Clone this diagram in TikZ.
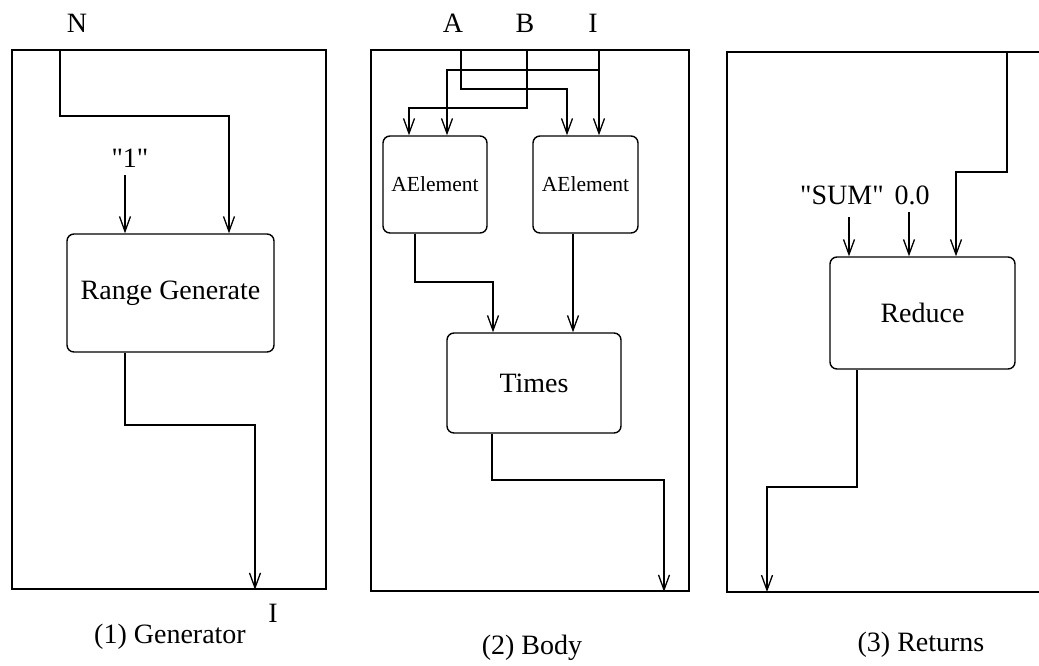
\documentclass[tikz,border=0pt]{standalone}
\usepackage{fontspec}
\setmainfont{Liberation Serif}
% same face without the TeX ligature mapping, so " stays a straight quote
\newfontfamily\qfont{Liberation Serif}
\usetikzlibrary{arrows.meta}
\newcommand{\dq}{{\qfont\symbol{34}}}
\begin{document}
\begin{tikzpicture}[x=1pt,y=-1pt,
  line width=1.3pt,
  arr/.style={-{Straight Barb[length=15pt,width=11pt,line width=1.3pt]}},
  op/.style={draw, rounded corners=7pt, inner sep=0pt, line width=1.4pt,
             font=\fontsize{28}{32}\selectfont},
  small/.style={font=\fontsize{21.5}{26}\selectfont},
  lab/.style={font=\fontsize{28}{32}\selectfont, inner sep=0pt},
  frame/.style={draw, line width=1.5pt, inner sep=0pt}]
\useasboundingbox (0,0) rectangle (1039,665);

% ---------- (1) Generator ----------
\node[frame, minimum width=314pt, minimum height=539pt] (p1) at (169,319.5) {};
\node[op, minimum width=207pt, minimum height=118pt] (rg) at (170.5,293) {Range Generate};
\node[lab] (n) at (77,23) {N};
\node[lab] (one) at (130,158) {\dq1\dq};
\node[lab] (iout) at (273,613) {I};
\node[lab] (cap1) at (170,637) {(1) Generator};
\coordinate (nin) at (60,50);
\coordinate (onein) at (125,175);
\draw[arr] (nin) |- (229,116) -- (rg.north -| 229,0);
\draw[arr] (onein) -- (rg.north -| onein);
\draw[arr] (rg.south -| 125,0) |- (255,425) -- (p1.south -| 255,0);

% ---------- (2) Body ----------
\node[frame, minimum width=318pt, minimum height=541pt] (p2) at (530,320.5) {};
\node[op, small, minimum width=104pt, minimum height=97pt] (ae1) at (435,184.5) {AElement};
\node[op, small, minimum width=105pt, minimum height=97pt] (ae2) at (585.5,184.5) {AElement};
\node[op, minimum width=174pt, minimum height=100pt] (tm) at (534,383) {Times};
\node[lab] (a) at (453,23) {A};
\node[lab] (b) at (525,23) {B};
\node[lab] (i) at (593,23) {I};
\node[lab] (cap2) at (532,648) {(2) Body};
\coordinate (ain) at (461,50);
\coordinate (bin) at (527,50);
\coordinate (iin) at (599,50);
\draw[arr] (ain) |- (567,89) -- (ae2.north -| 567,0);
\draw[arr] (bin) |- (409,108) -- (ae1.north -| 409,0);
\draw[arr] (iin) -- (ae2.north -| iin);
\draw[arr] (599,70) -| (ae1.north -| 447,0);
\draw[arr] (ae1.south -| 415,0) |- (493,282) -- (tm.north -| 493,0);
\draw[arr] (ae2.south -| 573,0) -- (tm.north -| 573,0);
\draw[arr] (tm.south -| 492,0) |- (664,480) -- (p2.south -| 664,0);

% ---------- (3) Returns ----------
\coordinate (f3tr) at (1039,52);
\coordinate (f3br) at (1039,592);
\draw[line width=1.5pt] (f3tr) -- (727,52) -- (727,592) -- (f3br);
\node[op, minimum width=185pt, minimum height=112pt] (rd) at (922.5,313) {Reduce};
\node[lab] (sum) at (842,195) {\dq SUM\dq};
\node[lab] (zero) at (912,195) {0.0};
\node[lab] (cap3) at (921,645) {(3) Returns};
\coordinate (sumin) at (849,217);
\coordinate (zeroin) at (909,212);
\coordinate (accin) at (1007,52);
\coordinate (resout) at (767,592);
\draw[arr] (sumin) -- (rd.north -| sumin);
\draw[arr] (zeroin) -- (rd.north -| zeroin);
\draw[arr] (accin) |- (956,172) -- (rd.north -| 956,0);
\draw[arr] (rd.south -| 857,0) |- (767,487) -- (resout);
\end{tikzpicture}
\end{document}
